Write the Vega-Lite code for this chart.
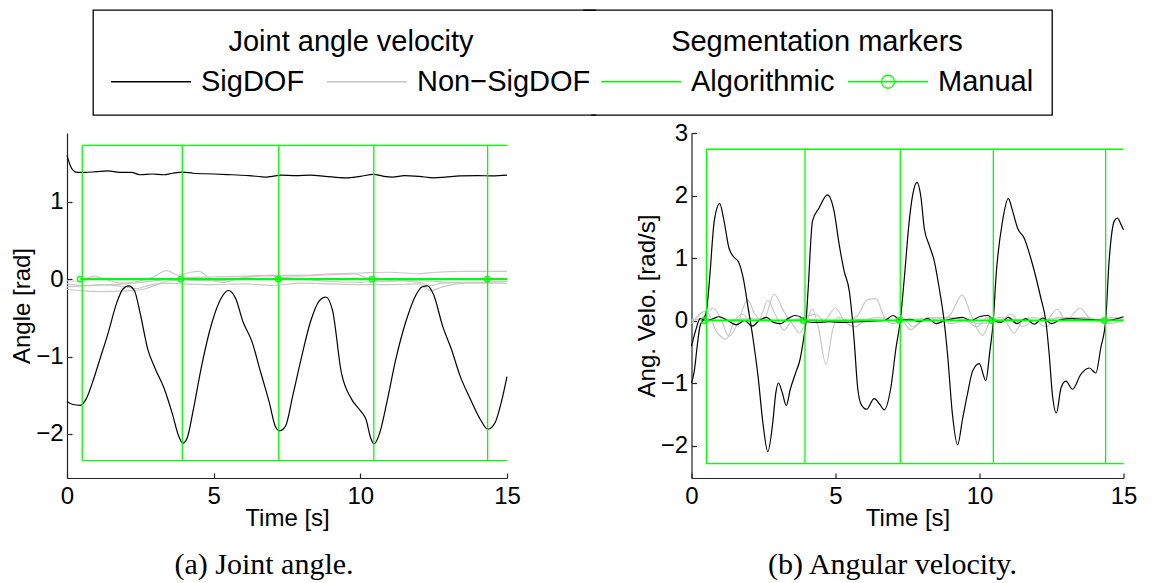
{
  "$schema": "https://vega.github.io/schema/vega-lite/v6.json",
  "padding": {"left": 10, "top": 9, "right": 10, "bottom": 0},
  "background": "white",
  "config": {
    "font": "Liberation Sans",
    "view": {"stroke": null},
    "axis": {
      "labelFont": "Liberation Sans", "labelFontSize": 24, "labelColor": "black",
      "titleFont": "Liberation Sans", "titleFontSize": 24, "titleFontWeight": "normal", "titleColor": "black",
      "domainColor": "#222", "domainWidth": 1.2, "tickColor": "#222", "tickWidth": 1.2,
      "tickSize": -5, "grid": false, "labelFlush": false, "labelOverlap": false, "format": "d"
    },
    "axisX": {"titlePadding": -2, "labelPadding": 11},
    "axisY": {"titlePadding": 1, "labelPadding": 9},
    "legend": {
      "orient": "none", "direction": "horizontal", "padding": 18,
      "labelFont": "Liberation Sans", "labelFontSize": 29, "labelColor": "black", "labelLimit": 400, "labelOffset": 61,
      "titleFont": "Liberation Sans", "titleFontSize": 29, "titleFontWeight": "normal", "titleColor": "black",
      "titleLimit": 500, "titleAnchor": "middle", "titlePadding": 10,
      "symbolSize": 400, "symbolStrokeWidth": 1.3
    }
  },
  "datasets": {
    "joint": [
      {"p":"a","dof":"a3","kind":"Non-SigDOF","t":0,"v":-0.02},{"p":"a","dof":"a3","kind":"Non-SigDOF","t":0.5,"v":-0.03},{"p":"a","dof":"a3","kind":"Non-SigDOF","t":0.9,"v":0.04},{"p":"a","dof":"a3","kind":"Non-SigDOF","t":1.3,"v":0.0},{"p":"a","dof":"a3","kind":"Non-SigDOF","t":1.8,"v":-0.05},{"p":"a","dof":"a3","kind":"Non-SigDOF","t":2.4,"v":-0.03},{"p":"a","dof":"a3","kind":"Non-SigDOF","t":2.9,"v":0.02},{"p":"a","dof":"a3","kind":"Non-SigDOF","t":3.4,"v":0.11},{"p":"a","dof":"a3","kind":"Non-SigDOF","t":3.8,"v":0.05},{"p":"a","dof":"a3","kind":"Non-SigDOF","t":4.2,"v":0.09},{"p":"a","dof":"a3","kind":"Non-SigDOF","t":4.5,"v":0.1},{"p":"a","dof":"a3","kind":"Non-SigDOF","t":4.9,"v":0.0},{"p":"a","dof":"a3","kind":"Non-SigDOF","t":5.3,"v":-0.04},{"p":"a","dof":"a3","kind":"Non-SigDOF","t":5.8,"v":0.0},{"p":"a","dof":"a3","kind":"Non-SigDOF","t":6.3,"v":0.03},{"p":"a","dof":"a3","kind":"Non-SigDOF","t":7.0,"v":0.05},{"p":"a","dof":"a3","kind":"Non-SigDOF","t":7.8,"v":0.04},{"p":"a","dof":"a3","kind":"Non-SigDOF","t":8.5,"v":0.05},{"p":"a","dof":"a3","kind":"Non-SigDOF","t":9.2,"v":0.06},{"p":"a","dof":"a3","kind":"Non-SigDOF","t":9.8,"v":0.07},{"p":"a","dof":"a3","kind":"Non-SigDOF","t":10.2,"v":0.02},{"p":"a","dof":"a3","kind":"Non-SigDOF","t":10.8,"v":-0.03},{"p":"a","dof":"a3","kind":"Non-SigDOF","t":11.3,"v":-0.02},{"p":"a","dof":"a3","kind":"Non-SigDOF","t":12.0,"v":-0.04},{"p":"a","dof":"a3","kind":"Non-SigDOF","t":12.4,"v":-0.08},{"p":"a","dof":"a3","kind":"Non-SigDOF","t":12.8,"v":-0.05},{"p":"a","dof":"a3","kind":"Non-SigDOF","t":13.5,"v":-0.04},{"p":"a","dof":"a3","kind":"Non-SigDOF","t":14.2,"v":-0.04},{"p":"a","dof":"a3","kind":"Non-SigDOF","t":15,"v":-0.03},
      {"p":"a","dof":"a4","kind":"Non-SigDOF","t":0,"v":-0.1},{"p":"a","dof":"a4","kind":"Non-SigDOF","t":1,"v":-0.08},{"p":"a","dof":"a4","kind":"Non-SigDOF","t":2,"v":-0.06},{"p":"a","dof":"a4","kind":"Non-SigDOF","t":3,"v":-0.02},{"p":"a","dof":"a4","kind":"Non-SigDOF","t":4,"v":0.02},{"p":"a","dof":"a4","kind":"Non-SigDOF","t":5,"v":0.03},{"p":"a","dof":"a4","kind":"Non-SigDOF","t":6,"v":0.04},{"p":"a","dof":"a4","kind":"Non-SigDOF","t":7,"v":0.05},{"p":"a","dof":"a4","kind":"Non-SigDOF","t":8,"v":0.05},{"p":"a","dof":"a4","kind":"Non-SigDOF","t":9,"v":0.07},{"p":"a","dof":"a4","kind":"Non-SigDOF","t":10,"v":0.08},{"p":"a","dof":"a4","kind":"Non-SigDOF","t":11,"v":0.09},{"p":"a","dof":"a4","kind":"Non-SigDOF","t":12,"v":0.07},{"p":"a","dof":"a4","kind":"Non-SigDOF","t":12.6,"v":0.09},{"p":"a","dof":"a4","kind":"Non-SigDOF","t":13.5,"v":0.1},{"p":"a","dof":"a4","kind":"Non-SigDOF","t":15,"v":0.1},
      {"p":"a","dof":"a5","kind":"Non-SigDOF","t":0,"v":-0.06},{"p":"a","dof":"a5","kind":"Non-SigDOF","t":0.6,"v":-0.08},{"p":"a","dof":"a5","kind":"Non-SigDOF","t":1.2,"v":-0.07},{"p":"a","dof":"a5","kind":"Non-SigDOF","t":2.0,"v":-0.1},{"p":"a","dof":"a5","kind":"Non-SigDOF","t":2.4,"v":-0.12},{"p":"a","dof":"a5","kind":"Non-SigDOF","t":2.8,"v":-0.08},{"p":"a","dof":"a5","kind":"Non-SigDOF","t":3.3,"v":-0.05},{"p":"a","dof":"a5","kind":"Non-SigDOF","t":4.0,"v":-0.06},{"p":"a","dof":"a5","kind":"Non-SigDOF","t":5,"v":-0.07},{"p":"a","dof":"a5","kind":"Non-SigDOF","t":6,"v":-0.06},{"p":"a","dof":"a5","kind":"Non-SigDOF","t":7,"v":-0.08},{"p":"a","dof":"a5","kind":"Non-SigDOF","t":8,"v":-0.05},{"p":"a","dof":"a5","kind":"Non-SigDOF","t":9,"v":-0.06},{"p":"a","dof":"a5","kind":"Non-SigDOF","t":10,"v":-0.07},{"p":"a","dof":"a5","kind":"Non-SigDOF","t":11,"v":-0.07},{"p":"a","dof":"a5","kind":"Non-SigDOF","t":12,"v":-0.06},{"p":"a","dof":"a5","kind":"Non-SigDOF","t":12.4,"v":-0.15},{"p":"a","dof":"a5","kind":"Non-SigDOF","t":12.8,"v":-0.1},{"p":"a","dof":"a5","kind":"Non-SigDOF","t":13.5,"v":-0.05},{"p":"a","dof":"a5","kind":"Non-SigDOF","t":15,"v":-0.03},
      {"p":"a","dof":"a6","kind":"Non-SigDOF","t":0,"v":-0.13},{"p":"a","dof":"a6","kind":"Non-SigDOF","t":0.5,"v":-0.15},{"p":"a","dof":"a6","kind":"Non-SigDOF","t":1.2,"v":-0.16},{"p":"a","dof":"a6","kind":"Non-SigDOF","t":2.0,"v":-0.15},{"p":"a","dof":"a6","kind":"Non-SigDOF","t":2.6,"v":-0.13},{"p":"a","dof":"a6","kind":"Non-SigDOF","t":3.0,"v":-0.08},{"p":"a","dof":"a6","kind":"Non-SigDOF","t":3.5,"v":-0.02},{"p":"a","dof":"a6","kind":"Non-SigDOF","t":4.0,"v":-0.01},{"p":"a","dof":"a6","kind":"Non-SigDOF","t":5.0,"v":-0.02},{"p":"a","dof":"a6","kind":"Non-SigDOF","t":6,"v":0.02},{"p":"a","dof":"a6","kind":"Non-SigDOF","t":6.5,"v":0.05},{"p":"a","dof":"a6","kind":"Non-SigDOF","t":7,"v":0.04},{"p":"a","dof":"a6","kind":"Non-SigDOF","t":7.5,"v":0.02},{"p":"a","dof":"a6","kind":"Non-SigDOF","t":8,"v":0.0},{"p":"a","dof":"a6","kind":"Non-SigDOF","t":9,"v":-0.03},{"p":"a","dof":"a6","kind":"Non-SigDOF","t":10,"v":-0.04},{"p":"a","dof":"a6","kind":"Non-SigDOF","t":11,"v":-0.02},{"p":"a","dof":"a6","kind":"Non-SigDOF","t":12,"v":-0.02},{"p":"a","dof":"a6","kind":"Non-SigDOF","t":13,"v":-0.04},{"p":"a","dof":"a6","kind":"Non-SigDOF","t":14,"v":-0.05},{"p":"a","dof":"a6","kind":"Non-SigDOF","t":15,"v":-0.05},
      {"p":"a","dof":"a1","kind":"SigDOF","t":0,"v":1.6},{"p":"a","dof":"a1","kind":"SigDOF","t":0.1,"v":1.48},{"p":"a","dof":"a1","kind":"SigDOF","t":0.2,"v":1.41},{"p":"a","dof":"a1","kind":"SigDOF","t":0.35,"v":1.38},{"p":"a","dof":"a1","kind":"SigDOF","t":0.6,"v":1.38},{"p":"a","dof":"a1","kind":"SigDOF","t":1.0,"v":1.39},{"p":"a","dof":"a1","kind":"SigDOF","t":1.4,"v":1.4},{"p":"a","dof":"a1","kind":"SigDOF","t":1.8,"v":1.38},{"p":"a","dof":"a1","kind":"SigDOF","t":2.2,"v":1.38},{"p":"a","dof":"a1","kind":"SigDOF","t":2.5,"v":1.35},{"p":"a","dof":"a1","kind":"SigDOF","t":2.9,"v":1.36},{"p":"a","dof":"a1","kind":"SigDOF","t":3.3,"v":1.35},{"p":"a","dof":"a1","kind":"SigDOF","t":3.6,"v":1.37},{"p":"a","dof":"a1","kind":"SigDOF","t":3.95,"v":1.385},{"p":"a","dof":"a1","kind":"SigDOF","t":4.3,"v":1.37},{"p":"a","dof":"a1","kind":"SigDOF","t":5.0,"v":1.36},{"p":"a","dof":"a1","kind":"SigDOF","t":5.6,"v":1.35},{"p":"a","dof":"a1","kind":"SigDOF","t":6.2,"v":1.34},{"p":"a","dof":"a1","kind":"SigDOF","t":6.8,"v":1.32},{"p":"a","dof":"a1","kind":"SigDOF","t":7.0,"v":1.33},{"p":"a","dof":"a1","kind":"SigDOF","t":7.3,"v":1.345},{"p":"a","dof":"a1","kind":"SigDOF","t":7.8,"v":1.34},{"p":"a","dof":"a1","kind":"SigDOF","t":8.3,"v":1.345},{"p":"a","dof":"a1","kind":"SigDOF","t":8.8,"v":1.33},{"p":"a","dof":"a1","kind":"SigDOF","t":9.5,"v":1.31},{"p":"a","dof":"a1","kind":"SigDOF","t":10.0,"v":1.33},{"p":"a","dof":"a1","kind":"SigDOF","t":10.45,"v":1.355},{"p":"a","dof":"a1","kind":"SigDOF","t":10.8,"v":1.33},{"p":"a","dof":"a1","kind":"SigDOF","t":11.1,"v":1.32},{"p":"a","dof":"a1","kind":"SigDOF","t":11.5,"v":1.34},{"p":"a","dof":"a1","kind":"SigDOF","t":12.0,"v":1.33},{"p":"a","dof":"a1","kind":"SigDOF","t":12.5,"v":1.31},{"p":"a","dof":"a1","kind":"SigDOF","t":12.9,"v":1.32},{"p":"a","dof":"a1","kind":"SigDOF","t":13.4,"v":1.335},{"p":"a","dof":"a1","kind":"SigDOF","t":14.0,"v":1.34},{"p":"a","dof":"a1","kind":"SigDOF","t":14.5,"v":1.335},{"p":"a","dof":"a1","kind":"SigDOF","t":15,"v":1.345},
      {"p":"a","dof":"a2","kind":"SigDOF","t":0.0,"v":-1.58},{"p":"a","dof":"a2","kind":"SigDOF","t":0.2,"v":-1.62},{"p":"a","dof":"a2","kind":"SigDOF","t":0.45,"v":-1.63},{"p":"a","dof":"a2","kind":"SigDOF","t":0.65,"v":-1.55},{"p":"a","dof":"a2","kind":"SigDOF","t":0.9,"v":-1.3},{"p":"a","dof":"a2","kind":"SigDOF","t":1.1,"v":-1.06},{"p":"a","dof":"a2","kind":"SigDOF","t":1.4,"v":-0.7},{"p":"a","dof":"a2","kind":"SigDOF","t":1.7,"v":-0.3},{"p":"a","dof":"a2","kind":"SigDOF","t":1.9,"v":-0.13},{"p":"a","dof":"a2","kind":"SigDOF","t":2.1,"v":-0.085},{"p":"a","dof":"a2","kind":"SigDOF","t":2.3,"v":-0.15},{"p":"a","dof":"a2","kind":"SigDOF","t":2.5,"v":-0.45},{"p":"a","dof":"a2","kind":"SigDOF","t":2.75,"v":-0.9},{"p":"a","dof":"a2","kind":"SigDOF","t":3.0,"v":-1.15},{"p":"a","dof":"a2","kind":"SigDOF","t":3.3,"v":-1.4},{"p":"a","dof":"a2","kind":"SigDOF","t":3.6,"v":-1.75},{"p":"a","dof":"a2","kind":"SigDOF","t":3.8,"v":-2.02},{"p":"a","dof":"a2","kind":"SigDOF","t":3.95,"v":-2.12},{"p":"a","dof":"a2","kind":"SigDOF","t":4.1,"v":-2.05},{"p":"a","dof":"a2","kind":"SigDOF","t":4.3,"v":-1.7},{"p":"a","dof":"a2","kind":"SigDOF","t":4.6,"v":-1.1},{"p":"a","dof":"a2","kind":"SigDOF","t":4.95,"v":-0.55},{"p":"a","dof":"a2","kind":"SigDOF","t":5.25,"v":-0.25},{"p":"a","dof":"a2","kind":"SigDOF","t":5.5,"v":-0.146},{"p":"a","dof":"a2","kind":"SigDOF","t":5.75,"v":-0.25},{"p":"a","dof":"a2","kind":"SigDOF","t":6.0,"v":-0.55},{"p":"a","dof":"a2","kind":"SigDOF","t":6.3,"v":-0.8},{"p":"a","dof":"a2","kind":"SigDOF","t":6.6,"v":-1.2},{"p":"a","dof":"a2","kind":"SigDOF","t":6.9,"v":-1.6},{"p":"a","dof":"a2","kind":"SigDOF","t":7.1,"v":-1.9},{"p":"a","dof":"a2","kind":"SigDOF","t":7.25,"v":-1.96},{"p":"a","dof":"a2","kind":"SigDOF","t":7.45,"v":-1.9},{"p":"a","dof":"a2","kind":"SigDOF","t":7.7,"v":-1.5},{"p":"a","dof":"a2","kind":"SigDOF","t":8.0,"v":-1.0},{"p":"a","dof":"a2","kind":"SigDOF","t":8.3,"v":-0.55},{"p":"a","dof":"a2","kind":"SigDOF","t":8.6,"v":-0.28},{"p":"a","dof":"a2","kind":"SigDOF","t":8.82,"v":-0.23},{"p":"a","dof":"a2","kind":"SigDOF","t":9.05,"v":-0.4},{"p":"a","dof":"a2","kind":"SigDOF","t":9.35,"v":-1.2},{"p":"a","dof":"a2","kind":"SigDOF","t":9.7,"v":-1.55},{"p":"a","dof":"a2","kind":"SigDOF","t":10.0,"v":-1.7},{"p":"a","dof":"a2","kind":"SigDOF","t":10.2,"v":-1.82},{"p":"a","dof":"a2","kind":"SigDOF","t":10.35,"v":-2.05},{"p":"a","dof":"a2","kind":"SigDOF","t":10.47,"v":-2.13},{"p":"a","dof":"a2","kind":"SigDOF","t":10.65,"v":-2.0},{"p":"a","dof":"a2","kind":"SigDOF","t":10.9,"v":-1.6},{"p":"a","dof":"a2","kind":"SigDOF","t":11.2,"v":-1.05},{"p":"a","dof":"a2","kind":"SigDOF","t":11.55,"v":-0.55},{"p":"a","dof":"a2","kind":"SigDOF","t":11.9,"v":-0.2},{"p":"a","dof":"a2","kind":"SigDOF","t":12.1,"v":-0.1},{"p":"a","dof":"a2","kind":"SigDOF","t":12.28,"v":-0.085},{"p":"a","dof":"a2","kind":"SigDOF","t":12.5,"v":-0.2},{"p":"a","dof":"a2","kind":"SigDOF","t":12.8,"v":-0.6},{"p":"a","dof":"a2","kind":"SigDOF","t":13.1,"v":-0.9},{"p":"a","dof":"a2","kind":"SigDOF","t":13.4,"v":-1.25},{"p":"a","dof":"a2","kind":"SigDOF","t":13.75,"v":-1.55},{"p":"a","dof":"a2","kind":"SigDOF","t":14.1,"v":-1.82},{"p":"a","dof":"a2","kind":"SigDOF","t":14.35,"v":-1.94},{"p":"a","dof":"a2","kind":"SigDOF","t":14.6,"v":-1.85},{"p":"a","dof":"a2","kind":"SigDOF","t":14.8,"v":-1.6},{"p":"a","dof":"a2","kind":"SigDOF","t":15.0,"v":-1.26},
      {"p":"b","dof":"b3","kind":"Non-SigDOF","t":0,"v":0.0},{"p":"b","dof":"b3","kind":"Non-SigDOF","t":0.4,"v":0.05},{"p":"b","dof":"b3","kind":"Non-SigDOF","t":0.75,"v":0.2},{"p":"b","dof":"b3","kind":"Non-SigDOF","t":1.0,"v":0.05},{"p":"b","dof":"b3","kind":"Non-SigDOF","t":1.3,"v":-0.25},{"p":"b","dof":"b3","kind":"Non-SigDOF","t":1.6,"v":-0.05},{"p":"b","dof":"b3","kind":"Non-SigDOF","t":1.95,"v":0.33},{"p":"b","dof":"b3","kind":"Non-SigDOF","t":2.2,"v":0.1},{"p":"b","dof":"b3","kind":"Non-SigDOF","t":2.5,"v":0.0},{"p":"b","dof":"b3","kind":"Non-SigDOF","t":2.87,"v":0.42},{"p":"b","dof":"b3","kind":"Non-SigDOF","t":3.2,"v":0.15},{"p":"b","dof":"b3","kind":"Non-SigDOF","t":3.5,"v":-0.05},{"p":"b","dof":"b3","kind":"Non-SigDOF","t":3.75,"v":-0.2},{"p":"b","dof":"b3","kind":"Non-SigDOF","t":4.0,"v":0.0},{"p":"b","dof":"b3","kind":"Non-SigDOF","t":4.2,"v":0.18},{"p":"b","dof":"b3","kind":"Non-SigDOF","t":4.4,"v":-0.1},{"p":"b","dof":"b3","kind":"Non-SigDOF","t":4.67,"v":-0.7},{"p":"b","dof":"b3","kind":"Non-SigDOF","t":4.9,"v":-0.15},{"p":"b","dof":"b3","kind":"Non-SigDOF","t":5.1,"v":0.05},{"p":"b","dof":"b3","kind":"Non-SigDOF","t":5.5,"v":0.0},{"p":"b","dof":"b3","kind":"Non-SigDOF","t":5.8,"v":0.1},{"p":"b","dof":"b3","kind":"Non-SigDOF","t":6.1,"v":0.33},{"p":"b","dof":"b3","kind":"Non-SigDOF","t":6.4,"v":0.35},{"p":"b","dof":"b3","kind":"Non-SigDOF","t":6.7,"v":0.05},{"p":"b","dof":"b3","kind":"Non-SigDOF","t":7.0,"v":-0.05},{"p":"b","dof":"b3","kind":"Non-SigDOF","t":7.3,"v":0.0},{"p":"b","dof":"b3","kind":"Non-SigDOF","t":7.6,"v":-0.15},{"p":"b","dof":"b3","kind":"Non-SigDOF","t":7.9,"v":-0.05},{"p":"b","dof":"b3","kind":"Non-SigDOF","t":8.2,"v":0.05},{"p":"b","dof":"b3","kind":"Non-SigDOF","t":8.6,"v":0.0},{"p":"b","dof":"b3","kind":"Non-SigDOF","t":9.0,"v":0.1},{"p":"b","dof":"b3","kind":"Non-SigDOF","t":9.4,"v":0.41},{"p":"b","dof":"b3","kind":"Non-SigDOF","t":9.7,"v":0.1},{"p":"b","dof":"b3","kind":"Non-SigDOF","t":10.1,"v":-0.24},{"p":"b","dof":"b3","kind":"Non-SigDOF","t":10.4,"v":0.0},{"p":"b","dof":"b3","kind":"Non-SigDOF","t":10.8,"v":0.05},{"p":"b","dof":"b3","kind":"Non-SigDOF","t":11.2,"v":-0.2},{"p":"b","dof":"b3","kind":"Non-SigDOF","t":11.5,"v":0.0},{"p":"b","dof":"b3","kind":"Non-SigDOF","t":11.9,"v":0.05},{"p":"b","dof":"b3","kind":"Non-SigDOF","t":12.3,"v":0.0},{"p":"b","dof":"b3","kind":"Non-SigDOF","t":12.7,"v":0.18},{"p":"b","dof":"b3","kind":"Non-SigDOF","t":13.0,"v":0.0},{"p":"b","dof":"b3","kind":"Non-SigDOF","t":13.5,"v":0.2},{"p":"b","dof":"b3","kind":"Non-SigDOF","t":13.8,"v":0.05},{"p":"b","dof":"b3","kind":"Non-SigDOF","t":14.2,"v":0.0},{"p":"b","dof":"b3","kind":"Non-SigDOF","t":14.6,"v":0.05},{"p":"b","dof":"b3","kind":"Non-SigDOF","t":15,"v":0.02},
      {"p":"b","dof":"b4","kind":"Non-SigDOF","t":0,"v":-0.05},{"p":"b","dof":"b4","kind":"Non-SigDOF","t":0.5,"v":0.15},{"p":"b","dof":"b4","kind":"Non-SigDOF","t":0.9,"v":-0.2},{"p":"b","dof":"b4","kind":"Non-SigDOF","t":1.2,"v":-0.3},{"p":"b","dof":"b4","kind":"Non-SigDOF","t":1.5,"v":0.0},{"p":"b","dof":"b4","kind":"Non-SigDOF","t":1.8,"v":0.1},{"p":"b","dof":"b4","kind":"Non-SigDOF","t":2.1,"v":-0.1},{"p":"b","dof":"b4","kind":"Non-SigDOF","t":2.4,"v":0.05},{"p":"b","dof":"b4","kind":"Non-SigDOF","t":2.65,"v":0.32},{"p":"b","dof":"b4","kind":"Non-SigDOF","t":2.9,"v":0.1},{"p":"b","dof":"b4","kind":"Non-SigDOF","t":3.2,"v":-0.15},{"p":"b","dof":"b4","kind":"Non-SigDOF","t":3.5,"v":0.0},{"p":"b","dof":"b4","kind":"Non-SigDOF","t":3.9,"v":0.05},{"p":"b","dof":"b4","kind":"Non-SigDOF","t":4.3,"v":0.1},{"p":"b","dof":"b4","kind":"Non-SigDOF","t":4.6,"v":0.0},{"p":"b","dof":"b4","kind":"Non-SigDOF","t":5.0,"v":0.2},{"p":"b","dof":"b4","kind":"Non-SigDOF","t":5.3,"v":0.0},{"p":"b","dof":"b4","kind":"Non-SigDOF","t":5.7,"v":-0.1},{"p":"b","dof":"b4","kind":"Non-SigDOF","t":6.0,"v":0.0},{"p":"b","dof":"b4","kind":"Non-SigDOF","t":6.5,"v":0.05},{"p":"b","dof":"b4","kind":"Non-SigDOF","t":7.0,"v":0.0},{"p":"b","dof":"b4","kind":"Non-SigDOF","t":7.3,"v":0.05},{"p":"b","dof":"b4","kind":"Non-SigDOF","t":7.7,"v":-0.1},{"p":"b","dof":"b4","kind":"Non-SigDOF","t":8.0,"v":0.0},{"p":"b","dof":"b4","kind":"Non-SigDOF","t":8.5,"v":0.05},{"p":"b","dof":"b4","kind":"Non-SigDOF","t":9.0,"v":-0.05},{"p":"b","dof":"b4","kind":"Non-SigDOF","t":9.5,"v":0.0},{"p":"b","dof":"b4","kind":"Non-SigDOF","t":9.9,"v":-0.1},{"p":"b","dof":"b4","kind":"Non-SigDOF","t":10.3,"v":0.05},{"p":"b","dof":"b4","kind":"Non-SigDOF","t":10.7,"v":0.0},{"p":"b","dof":"b4","kind":"Non-SigDOF","t":11.1,"v":0.1},{"p":"b","dof":"b4","kind":"Non-SigDOF","t":11.5,"v":-0.1},{"p":"b","dof":"b4","kind":"Non-SigDOF","t":11.9,"v":0.0},{"p":"b","dof":"b4","kind":"Non-SigDOF","t":12.3,"v":-0.1},{"p":"b","dof":"b4","kind":"Non-SigDOF","t":12.7,"v":0.05},{"p":"b","dof":"b4","kind":"Non-SigDOF","t":13.1,"v":0.0},{"p":"b","dof":"b4","kind":"Non-SigDOF","t":13.6,"v":0.05},{"p":"b","dof":"b4","kind":"Non-SigDOF","t":14.0,"v":0.0},{"p":"b","dof":"b4","kind":"Non-SigDOF","t":14.5,"v":-0.05},{"p":"b","dof":"b4","kind":"Non-SigDOF","t":15,"v":0.0},
      {"p":"b","dof":"b5","kind":"Non-SigDOF","t":0,"v":0.02},{"p":"b","dof":"b5","kind":"Non-SigDOF","t":1,"v":0.0},{"p":"b","dof":"b5","kind":"Non-SigDOF","t":2,"v":0.03},{"p":"b","dof":"b5","kind":"Non-SigDOF","t":3,"v":0.0},{"p":"b","dof":"b5","kind":"Non-SigDOF","t":4,"v":0.02},{"p":"b","dof":"b5","kind":"Non-SigDOF","t":5,"v":-0.02},{"p":"b","dof":"b5","kind":"Non-SigDOF","t":6,"v":0.02},{"p":"b","dof":"b5","kind":"Non-SigDOF","t":7,"v":0.0},{"p":"b","dof":"b5","kind":"Non-SigDOF","t":8,"v":0.03},{"p":"b","dof":"b5","kind":"Non-SigDOF","t":9,"v":0.05},{"p":"b","dof":"b5","kind":"Non-SigDOF","t":10,"v":-0.05},{"p":"b","dof":"b5","kind":"Non-SigDOF","t":11,"v":0.02},{"p":"b","dof":"b5","kind":"Non-SigDOF","t":12,"v":0.0},{"p":"b","dof":"b5","kind":"Non-SigDOF","t":13,"v":0.05},{"p":"b","dof":"b5","kind":"Non-SigDOF","t":14,"v":0.02},{"p":"b","dof":"b5","kind":"Non-SigDOF","t":15,"v":0.02},
      {"p":"b","dof":"b2","kind":"SigDOF","t":0,"v":-0.41},{"p":"b","dof":"b2","kind":"SigDOF","t":0.15,"v":-0.15},{"p":"b","dof":"b2","kind":"SigDOF","t":0.3,"v":0.03},{"p":"b","dof":"b2","kind":"SigDOF","t":0.5,"v":0.0},{"p":"b","dof":"b2","kind":"SigDOF","t":0.7,"v":0.02},{"p":"b","dof":"b2","kind":"SigDOF","t":0.95,"v":0.06},{"p":"b","dof":"b2","kind":"SigDOF","t":1.25,"v":0.0},{"p":"b","dof":"b2","kind":"SigDOF","t":1.55,"v":-0.07},{"p":"b","dof":"b2","kind":"SigDOF","t":1.85,"v":0.0},{"p":"b","dof":"b2","kind":"SigDOF","t":2.1,"v":-0.09},{"p":"b","dof":"b2","kind":"SigDOF","t":2.35,"v":0.0},{"p":"b","dof":"b2","kind":"SigDOF","t":2.6,"v":0.05},{"p":"b","dof":"b2","kind":"SigDOF","t":2.85,"v":-0.03},{"p":"b","dof":"b2","kind":"SigDOF","t":3.1,"v":-0.05},{"p":"b","dof":"b2","kind":"SigDOF","t":3.35,"v":0.03},{"p":"b","dof":"b2","kind":"SigDOF","t":3.6,"v":0.08},{"p":"b","dof":"b2","kind":"SigDOF","t":3.85,"v":0.04},{"p":"b","dof":"b2","kind":"SigDOF","t":4.0,"v":-0.02},{"p":"b","dof":"b2","kind":"SigDOF","t":4.3,"v":-0.03},{"p":"b","dof":"b2","kind":"SigDOF","t":4.8,"v":-0.02},{"p":"b","dof":"b2","kind":"SigDOF","t":5.3,"v":-0.03},{"p":"b","dof":"b2","kind":"SigDOF","t":5.8,"v":-0.02},{"p":"b","dof":"b2","kind":"SigDOF","t":6.3,"v":-0.01},{"p":"b","dof":"b2","kind":"SigDOF","t":6.7,"v":0.0},{"p":"b","dof":"b2","kind":"SigDOF","t":7.0,"v":0.08},{"p":"b","dof":"b2","kind":"SigDOF","t":7.25,"v":0.01},{"p":"b","dof":"b2","kind":"SigDOF","t":7.6,"v":0.02},{"p":"b","dof":"b2","kind":"SigDOF","t":7.9,"v":-0.02},{"p":"b","dof":"b2","kind":"SigDOF","t":8.2,"v":0.03},{"p":"b","dof":"b2","kind":"SigDOF","t":8.5,"v":-0.05},{"p":"b","dof":"b2","kind":"SigDOF","t":8.8,"v":0.0},{"p":"b","dof":"b2","kind":"SigDOF","t":9.1,"v":0.03},{"p":"b","dof":"b2","kind":"SigDOF","t":9.4,"v":0.05},{"p":"b","dof":"b2","kind":"SigDOF","t":9.7,"v":0.0},{"p":"b","dof":"b2","kind":"SigDOF","t":10.0,"v":0.06},{"p":"b","dof":"b2","kind":"SigDOF","t":10.3,"v":0.08},{"p":"b","dof":"b2","kind":"SigDOF","t":10.5,"v":0.0},{"p":"b","dof":"b2","kind":"SigDOF","t":10.75,"v":-0.03},{"p":"b","dof":"b2","kind":"SigDOF","t":11.0,"v":0.05},{"p":"b","dof":"b2","kind":"SigDOF","t":11.3,"v":-0.05},{"p":"b","dof":"b2","kind":"SigDOF","t":11.6,"v":0.03},{"p":"b","dof":"b2","kind":"SigDOF","t":11.9,"v":-0.06},{"p":"b","dof":"b2","kind":"SigDOF","t":12.2,"v":0.04},{"p":"b","dof":"b2","kind":"SigDOF","t":12.5,"v":-0.05},{"p":"b","dof":"b2","kind":"SigDOF","t":12.8,"v":0.01},{"p":"b","dof":"b2","kind":"SigDOF","t":13.2,"v":0.03},{"p":"b","dof":"b2","kind":"SigDOF","t":13.6,"v":0.02},{"p":"b","dof":"b2","kind":"SigDOF","t":14.0,"v":0.01},{"p":"b","dof":"b2","kind":"SigDOF","t":14.4,"v":0.0},{"p":"b","dof":"b2","kind":"SigDOF","t":14.7,"v":0.02},{"p":"b","dof":"b2","kind":"SigDOF","t":15,"v":0.06},
      {"p":"b","dof":"b1","kind":"SigDOF","t":0,"v":-1.0},{"p":"b","dof":"b1","kind":"SigDOF","t":0.1,"v":-0.8},{"p":"b","dof":"b1","kind":"SigDOF","t":0.2,"v":-0.4},{"p":"b","dof":"b1","kind":"SigDOF","t":0.3,"v":-0.08},{"p":"b","dof":"b1","kind":"SigDOF","t":0.42,"v":0.02},{"p":"b","dof":"b1","kind":"SigDOF","t":0.52,"v":0.15},{"p":"b","dof":"b1","kind":"SigDOF","t":0.62,"v":0.62},{"p":"b","dof":"b1","kind":"SigDOF","t":0.79,"v":1.59},{"p":"b","dof":"b1","kind":"SigDOF","t":0.98,"v":1.87},{"p":"b","dof":"b1","kind":"SigDOF","t":1.13,"v":1.59},{"p":"b","dof":"b1","kind":"SigDOF","t":1.3,"v":1.16},{"p":"b","dof":"b1","kind":"SigDOF","t":1.46,"v":1.02},{"p":"b","dof":"b1","kind":"SigDOF","t":1.63,"v":0.94},{"p":"b","dof":"b1","kind":"SigDOF","t":1.8,"v":0.67},{"p":"b","dof":"b1","kind":"SigDOF","t":1.97,"v":0.19},{"p":"b","dof":"b1","kind":"SigDOF","t":2.14,"v":-0.3},{"p":"b","dof":"b1","kind":"SigDOF","t":2.31,"v":-0.89},{"p":"b","dof":"b1","kind":"SigDOF","t":2.48,"v":-1.64},{"p":"b","dof":"b1","kind":"SigDOF","t":2.65,"v":-2.1},{"p":"b","dof":"b1","kind":"SigDOF","t":2.82,"v":-1.64},{"p":"b","dof":"b1","kind":"SigDOF","t":2.93,"v":-1.15},{"p":"b","dof":"b1","kind":"SigDOF","t":3.02,"v":-1.0},{"p":"b","dof":"b1","kind":"SigDOF","t":3.15,"v":-1.15},{"p":"b","dof":"b1","kind":"SigDOF","t":3.29,"v":-1.36},{"p":"b","dof":"b1","kind":"SigDOF","t":3.43,"v":-1.1},{"p":"b","dof":"b1","kind":"SigDOF","t":3.6,"v":-0.86},{"p":"b","dof":"b1","kind":"SigDOF","t":3.77,"v":-0.62},{"p":"b","dof":"b1","kind":"SigDOF","t":3.89,"v":-0.3},{"p":"b","dof":"b1","kind":"SigDOF","t":3.98,"v":0.0},{"p":"b","dof":"b1","kind":"SigDOF","t":4.05,"v":0.5},{"p":"b","dof":"b1","kind":"SigDOF","t":4.2,"v":1.59},{"p":"b","dof":"b1","kind":"SigDOF","t":4.43,"v":1.8},{"p":"b","dof":"b1","kind":"SigDOF","t":4.72,"v":2.01},{"p":"b","dof":"b1","kind":"SigDOF","t":4.95,"v":1.75},{"p":"b","dof":"b1","kind":"SigDOF","t":5.13,"v":1.21},{"p":"b","dof":"b1","kind":"SigDOF","t":5.3,"v":0.79},{"p":"b","dof":"b1","kind":"SigDOF","t":5.48,"v":0.47},{"p":"b","dof":"b1","kind":"SigDOF","t":5.59,"v":0.0},{"p":"b","dof":"b1","kind":"SigDOF","t":5.65,"v":-0.33},{"p":"b","dof":"b1","kind":"SigDOF","t":5.77,"v":-1.08},{"p":"b","dof":"b1","kind":"SigDOF","t":5.9,"v":-1.35},{"p":"b","dof":"b1","kind":"SigDOF","t":6.08,"v":-1.42},{"p":"b","dof":"b1","kind":"SigDOF","t":6.34,"v":-1.25},{"p":"b","dof":"b1","kind":"SigDOF","t":6.55,"v":-1.35},{"p":"b","dof":"b1","kind":"SigDOF","t":6.69,"v":-1.43},{"p":"b","dof":"b1","kind":"SigDOF","t":6.92,"v":-1.08},{"p":"b","dof":"b1","kind":"SigDOF","t":7.1,"v":-0.44},{"p":"b","dof":"b1","kind":"SigDOF","t":7.25,"v":0.0},{"p":"b","dof":"b1","kind":"SigDOF","t":7.39,"v":0.68},{"p":"b","dof":"b1","kind":"SigDOF","t":7.56,"v":1.59},{"p":"b","dof":"b1","kind":"SigDOF","t":7.68,"v":2.01},{"p":"b","dof":"b1","kind":"SigDOF","t":7.83,"v":2.21},{"p":"b","dof":"b1","kind":"SigDOF","t":7.97,"v":1.96},{"p":"b","dof":"b1","kind":"SigDOF","t":8.08,"v":1.48},{"p":"b","dof":"b1","kind":"SigDOF","t":8.25,"v":1.21},{"p":"b","dof":"b1","kind":"SigDOF","t":8.43,"v":0.95},{"p":"b","dof":"b1","kind":"SigDOF","t":8.6,"v":0.52},{"p":"b","dof":"b1","kind":"SigDOF","t":8.77,"v":0.0},{"p":"b","dof":"b1","kind":"SigDOF","t":8.89,"v":-0.54},{"p":"b","dof":"b1","kind":"SigDOF","t":9.06,"v":-1.5},{"p":"b","dof":"b1","kind":"SigDOF","t":9.24,"v":-1.99},{"p":"b","dof":"b1","kind":"SigDOF","t":9.41,"v":-1.58},{"p":"b","dof":"b1","kind":"SigDOF","t":9.58,"v":-1.18},{"p":"b","dof":"b1","kind":"SigDOF","t":9.76,"v":-0.81},{"p":"b","dof":"b1","kind":"SigDOF","t":9.99,"v":-0.69},{"p":"b","dof":"b1","kind":"SigDOF","t":10.22,"v":-0.96},{"p":"b","dof":"b1","kind":"SigDOF","t":10.36,"v":-0.49},{"p":"b","dof":"b1","kind":"SigDOF","t":10.48,"v":0.0},{"p":"b","dof":"b1","kind":"SigDOF","t":10.57,"v":0.68},{"p":"b","dof":"b1","kind":"SigDOF","t":10.8,"v":1.59},{"p":"b","dof":"b1","kind":"SigDOF","t":11.0,"v":1.95},{"p":"b","dof":"b1","kind":"SigDOF","t":11.15,"v":1.75},{"p":"b","dof":"b1","kind":"SigDOF","t":11.32,"v":1.48},{"p":"b","dof":"b1","kind":"SigDOF","t":11.55,"v":1.32},{"p":"b","dof":"b1","kind":"SigDOF","t":11.84,"v":0.9},{"p":"b","dof":"b1","kind":"SigDOF","t":12.13,"v":0.36},{"p":"b","dof":"b1","kind":"SigDOF","t":12.3,"v":0.0},{"p":"b","dof":"b1","kind":"SigDOF","t":12.42,"v":-0.54},{"p":"b","dof":"b1","kind":"SigDOF","t":12.53,"v":-1.18},{"p":"b","dof":"b1","kind":"SigDOF","t":12.67,"v":-1.48},{"p":"b","dof":"b1","kind":"SigDOF","t":12.83,"v":-1.08},{"p":"b","dof":"b1","kind":"SigDOF","t":13.0,"v":-0.97},{"p":"b","dof":"b1","kind":"SigDOF","t":13.23,"v":-1.1},{"p":"b","dof":"b1","kind":"SigDOF","t":13.52,"v":-0.86},{"p":"b","dof":"b1","kind":"SigDOF","t":13.81,"v":-0.76},{"p":"b","dof":"b1","kind":"SigDOF","t":14.04,"v":-0.84},{"p":"b","dof":"b1","kind":"SigDOF","t":14.21,"v":-0.44},{"p":"b","dof":"b1","kind":"SigDOF","t":14.38,"v":0.0},{"p":"b","dof":"b1","kind":"SigDOF","t":14.5,"v":0.95},{"p":"b","dof":"b1","kind":"SigDOF","t":14.68,"v":1.59},{"p":"b","dof":"b1","kind":"SigDOF","t":14.79,"v":1.64},{"p":"b","dof":"b1","kind":"SigDOF","t":14.9,"v":1.55},{"p":"b","dof":"b1","kind":"SigDOF","t":15.0,"v":1.45}
    ],
    "bounds": [
      {"p":"a","marker":"Algorithmic","t":0.52,"low":-2.345,"high":1.73},
      {"p":"a","marker":"Algorithmic","t":3.93,"low":-2.345,"high":1.73},
      {"p":"a","marker":"Algorithmic","t":7.22,"low":-2.345,"high":1.73},
      {"p":"a","marker":"Algorithmic","t":10.46,"low":-2.345,"high":1.73},
      {"p":"a","marker":"Algorithmic","t":14.34,"low":-2.345,"high":1.73},
      {"p":"b","marker":"Algorithmic","t":0.52,"low":-2.29,"high":2.74},
      {"p":"b","marker":"Algorithmic","t":3.94,"low":-2.29,"high":2.74},
      {"p":"b","marker":"Algorithmic","t":7.25,"low":-2.29,"high":2.74},
      {"p":"b","marker":"Algorithmic","t":10.48,"low":-2.29,"high":2.74},
      {"p":"b","marker":"Algorithmic","t":14.38,"low":-2.29,"high":2.74}
    ],
    "frame": [
      {"p":"a","marker":"Algorithmic","from":0.52,"to":15,"v":1.73},
      {"p":"a","marker":"Algorithmic","from":0.52,"to":15,"v":-2.345},
      {"p":"b","marker":"Algorithmic","from":0.52,"to":15,"v":2.74},
      {"p":"b","marker":"Algorithmic","from":0.52,"to":15,"v":-2.29}
    ],
    "manualLine": [
      {"p":"a","marker":"Manual","from":0.45,"to":15,"v":0},
      {"p":"b","marker":"Manual","from":0.44,"to":15,"v":0}
    ],
    "manual": [
      {"p":"a","marker":"Manual","t":0.45,"v":0},{"p":"a","marker":"Manual","t":3.88,"v":0},{"p":"a","marker":"Manual","t":7.2,"v":0},{"p":"a","marker":"Manual","t":10.4,"v":0},{"p":"a","marker":"Manual","t":14.33,"v":0},
      {"p":"b","marker":"Manual","t":0.44,"v":0},{"p":"b","marker":"Manual","t":3.88,"v":0},{"p":"b","marker":"Manual","t":7.22,"v":0},{"p":"b","marker":"Manual","t":10.42,"v":0},{"p":"b","marker":"Manual","t":14.34,"v":0}
    ]
  },
  "bounds": "flush",
  "spacing": 184.5,
  "hconcat": [
    {
      "width": 440,
      "height": 345,
      "title": {"text": "(a) Joint angle.", "orient": "bottom", "anchor": "middle", "font": "Liberation Serif", "fontSize": 30, "fontWeight": "normal", "color": "black", "offset": 20, "dx": -23},
      "layer": [
        {
          "data": {"name": "joint"},
          "transform": [{"filter": "datum.p === 'a'"}],
          "mark": {"type": "line", "interpolate": "monotone", "strokeWidth": 1.2},
          "encoding": {
            "x": {"field": "t", "type": "quantitative", "title": "Time [s]", "scale": {"domain": [0, 15], "nice": false}, "axis": {"values": [0, 5, 10, 15]}},
            "y": {"field": "v", "type": "quantitative", "title": "Angle [rad]", "scale": {"domain": [-2.57, 1.89], "nice": false, "zero": false}, "axis": {"values": [-2, -1, 0, 1]}},
            "stroke": {"field": "kind", "type": "nominal", "scale": {"domain": ["SigDOF", "Non-SigDOF"], "range": ["#000000", "#c8c8c8"]},
              "legend": {"title": "Joint angle velocity", "legendX": 26, "legendY": -123, "columnPadding": 19, "symbolType": "M-1.45,0H6.55",
                "labelExpr": "replace(datum.label, '-', '\u2212')",
                "encode": {"legend": {"update": {"stroke": {"value": "black"}, "strokeWidth": {"value": 1.3}, "strokeDash": {"value": [503, 131, 3000]}}}}}},
            "detail": {"field": "dof"}
          }
        },
        {
          "data": {"name": "bounds"},
          "transform": [{"filter": "datum.p === 'a'"}],
          "mark": {"type": "rule", "strokeWidth": 1.3},
          "encoding": {
            "x": {"field": "t", "type": "quantitative", "title": "Time [s]"},
            "y": {"field": "low", "type": "quantitative", "title": "Angle [rad]"},
            "y2": {"field": "high"},
            "color": {"field": "marker", "type": "nominal", "scale": {"domain": ["Algorithmic", "Manual"], "range": ["#00ff00", "#00ff00"]},
              "legend": {"title": "Segmentation markers", "legendX": 516, "legendY": -123, "columnPadding": 10,
                "encode": {
                  "symbols": {"update": {"shape": {"signal": "datum.value === 'Manual' ? 'M-1.45,0H6.55M3.2,0A0.65,0.65,0,1,1,1.9,0A0.65,0.65,0,1,1,3.2,0' : 'M-1.45,0H6.55'"}, "fill": {"value": "transparent"}, "stroke": {"value": "#00ff00"}, "strokeWidth": {"value": 1.3}}},
                  "legend": {"update": {"stroke": {"value": "black"}, "strokeWidth": {"value": 1.3}, "strokeDash": {"value": [1035, 3000]}}}}}}
          }
        },
        {
          "data": {"name": "frame"},
          "transform": [{"filter": "datum.p === 'a'"}],
          "mark": {"type": "rule", "strokeWidth": 1.3},
          "encoding": {
            "x": {"field": "from", "type": "quantitative", "title": "Time [s]"},
            "x2": {"field": "to"},
            "y": {"field": "v", "type": "quantitative", "title": "Angle [rad]"},
            "color": {"field": "marker", "type": "nominal"}
          }
        },
        {
          "data": {"name": "manualLine"},
          "transform": [{"filter": "datum.p === 'a'"}],
          "mark": {"type": "rule", "strokeWidth": 2.2},
          "encoding": {
            "x": {"field": "from", "type": "quantitative", "title": "Time [s]"},
            "x2": {"field": "to"},
            "y": {"field": "v", "type": "quantitative", "title": "Angle [rad]"},
            "color": {"field": "marker", "type": "nominal"}
          }
        },
        {
          "data": {"name": "manual"},
          "transform": [{"filter": "datum.p === 'a'"}],
          "mark": {"type": "point", "filled": false, "size": 30, "strokeWidth": 1.3, "opacity": 1},
          "encoding": {
            "x": {"field": "t", "type": "quantitative", "title": "Time [s]"},
            "y": {"field": "v", "type": "quantitative", "title": "Angle [rad]"},
            "color": {"field": "marker", "type": "nominal"}
          }
        }
      ]
    },
    {
      "width": 432,
      "height": 345,
      "title": {"text": "(b) Angular velocity.", "orient": "bottom", "anchor": "middle", "font": "Liberation Serif", "fontSize": 30, "fontWeight": "normal", "color": "black", "offset": 20, "dx": -15},
      "layer": [
        {
          "data": {"name": "joint"},
          "transform": [{"filter": "datum.p === 'b'"}],
          "mark": {"type": "line", "interpolate": "monotone", "strokeWidth": 1.2},
          "encoding": {
            "x": {"field": "t", "type": "quantitative", "title": "Time [s]", "scale": {"domain": [0, 15], "nice": false}, "axis": {"values": [0, 5, 10, 15]}},
            "y": {"field": "v", "type": "quantitative", "title": "Ang. Velo. [rad/s]", "scale": {"domain": [-2.52, 3], "nice": false, "zero": false}, "axis": {"values": [-2, -1, 0, 1, 2, 3]}},
            "stroke": {"field": "kind", "type": "nominal"},
            "detail": {"field": "dof"}
          }
        },
        {
          "data": {"name": "bounds"},
          "transform": [{"filter": "datum.p === 'b'"}],
          "mark": {"type": "rule", "strokeWidth": 1.3},
          "encoding": {
            "x": {"field": "t", "type": "quantitative", "title": "Time [s]"},
            "y": {"field": "low", "type": "quantitative", "title": "Ang. Velo. [rad/s]"},
            "y2": {"field": "high"},
            "color": {"field": "marker", "type": "nominal"}
          }
        },
        {
          "data": {"name": "frame"},
          "transform": [{"filter": "datum.p === 'b'"}],
          "mark": {"type": "rule", "strokeWidth": 1.3},
          "encoding": {
            "x": {"field": "from", "type": "quantitative", "title": "Time [s]"},
            "x2": {"field": "to"},
            "y": {"field": "v", "type": "quantitative", "title": "Ang. Velo. [rad/s]"},
            "color": {"field": "marker", "type": "nominal"}
          }
        },
        {
          "data": {"name": "manualLine"},
          "transform": [{"filter": "datum.p === 'b'"}],
          "mark": {"type": "rule", "strokeWidth": 2.2},
          "encoding": {
            "x": {"field": "from", "type": "quantitative", "title": "Time [s]"},
            "x2": {"field": "to"},
            "y": {"field": "v", "type": "quantitative", "title": "Ang. Velo. [rad/s]"},
            "color": {"field": "marker", "type": "nominal"}
          }
        },
        {
          "data": {"name": "manual"},
          "transform": [{"filter": "datum.p === 'b'"}],
          "mark": {"type": "point", "filled": false, "size": 30, "strokeWidth": 1.3, "opacity": 1},
          "encoding": {
            "x": {"field": "t", "type": "quantitative", "title": "Time [s]"},
            "y": {"field": "v", "type": "quantitative", "title": "Ang. Velo. [rad/s]"},
            "color": {"field": "marker", "type": "nominal"}
          }
        }
      ]
    }
  ]
}
